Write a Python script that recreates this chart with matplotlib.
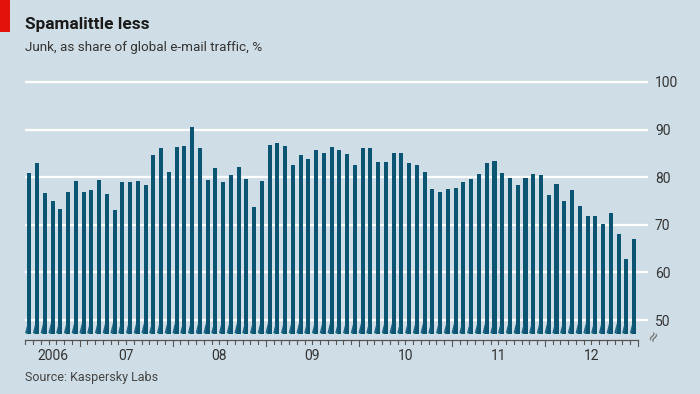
import numpy as np
import matplotlib
matplotlib.use("Agg")
import matplotlib.pyplot as plt
from matplotlib.patches import Rectangle, Polygon

# ---- data ----
months = [f"{y}-{m:02d}" for y in range(2006, 2013) for m in range(1, 13)][5:]  # Jun 2006 .. Dec 2012
spam_share = [80.8, 83.0, 76.6, 74.9, 73.3, 76.8, 79.1, 76.9, 77.3, 79.3,
              76.4, 73.2, 78.9, 79.0, 79.2, 78.4, 84.6, 86.2, 81.1, 86.3,
              86.6, 90.6, 86.2, 79.3, 82.0, 78.9, 80.4, 82.2, 79.6, 73.7,
              79.1, 86.7, 87.2, 86.5, 82.6, 84.6, 83.9, 85.6, 85.1, 86.3,
              85.6, 84.8, 82.6, 86.1, 86.1, 83.1, 83.1, 85.1, 85.0, 83.0,
              82.6, 81.0, 77.6, 76.8, 77.5, 77.7, 78.9, 79.6, 80.7, 83.0,
              83.3, 80.9, 79.8, 78.4, 79.8, 80.7, 80.4, 76.3, 78.6, 75.0,
              77.4, 73.9, 71.9, 71.9, 70.1, 72.5, 68.0, 62.9, 67.1]
year_labels = ["2006", "07", "08", "09", "10", "11", "12"]
months_in_year = [7, 12, 12, 12, 12, 12, 12]
y_ticks = [50, 60, 70, 80, 90, 100]

BG = "#cfdee6"
BAR = "#0b5472"
BAR_TAIL = "#1d6582"
TXT = "#333333"
plt.rcParams['font.family'] = ["Roboto", "DejaVu Sans"]

fig = plt.figure(figsize=(7.0, 3.94), dpi=100, facecolor=BG)
ax = fig.add_axes([25/700, 54/394, 623/700, 270/394])
ax.set_facecolor(BG)

x = np.arange(len(spam_share))
base = 47.0
ax.set_xlim(-0.555, 79.8)
ax.set_ylim(45.8, 102.5)

for v in y_ticks:
    ax.axhline(v, color="white", lw=1.6, zorder=1)

w = 0.52
ax.bar(x, np.array(spam_share) - base, bottom=base, width=w, color=BAR, zorder=2, linewidth=0)
for xi in x:
    xl = xi - w / 2
    ax.add_patch(Polygon([(xl + 0.05, 49.4), (xl + 0.05, base), (xl - 0.28, base + 0.3)],
                         closed=True, facecolor=BAR_TAIL, edgecolor="none", zorder=2))

# x axis line and ticks
for s in ax.spines.values():
    s.set_visible(False)
ax.set_xticks([])
axis_y = 45.8
ax.plot([-0.5, len(spam_share) - 0.5], [axis_y, axis_y], color="#555555", lw=0.9,
        clip_on=False, zorder=3)
bounds = np.cumsum([0] + months_in_year) - 0.5
for i in range(len(spam_share) + 1):
    t = i - 0.5
    major = t in bounds[1:]
    ax.plot([t, t], [axis_y, axis_y - (1.3 if major else 0.75)], color="#555555",
            lw=0.8, clip_on=False, zorder=3)
for lab, a, b in zip(year_labels, bounds[:-1], bounds[1:]):
    ax.text((a + b) / 2, -0.06, lab, transform=ax.get_xaxis_transform(),
            ha="center", va="center", fontsize=10, color=TXT)

# y ticks on right
ax.yaxis.tick_right()
ax.set_yticks(y_ticks)
ax.set_yticklabels([str(v) for v in y_ticks])
ax.tick_params(axis="y", length=0, pad=5, labelsize=10, labelcolor=TXT)
fig.text(654/700, 1 - 336/394, "≈", rotation=60, fontsize=10, color="#666666",
         ha="center", va="center", family=["DejaVu Sans"])

# titles
fig.add_artist(Rectangle((0, 1 - 32/394), 10/700, 32/394, transform=fig.transFigure,
                         facecolor="#e3120b", edgecolor="none"))
fig.text(25/700, 1 - 25/394, "Spamalittle less", fontsize=12.4, fontweight="bold",
         color="#1a1a1a", ha="left", va="center")
fig.text(25/700, 1 - 47/394, "Junk, as share of global e-mail traffic, %", fontsize=9.7,
         color=TXT, ha="left", va="center")
fig.text(25/700, 1 - 378/394, "Source: Kaspersky Labs", fontsize=9,
         color="#444444", ha="left", va="center")

fig.savefig("out.png", dpi=100, facecolor=BG)
